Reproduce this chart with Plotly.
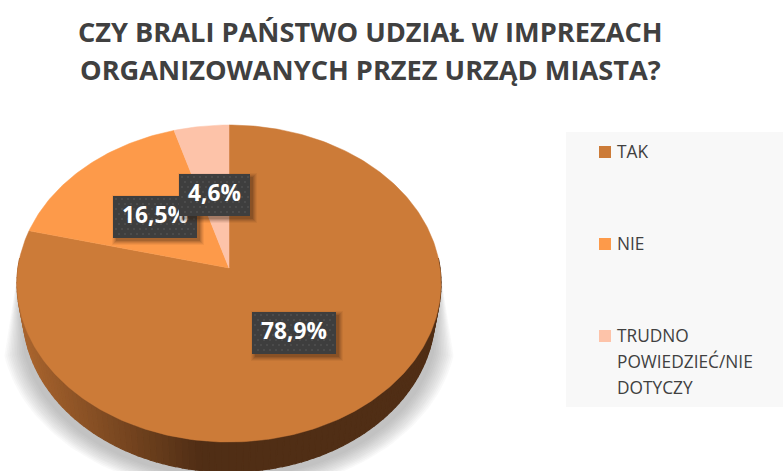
import math
import plotly.graph_objects as go

categories = ["TAK", "NIE", "TRUDNO<br>POWIEDZIEĆ/NIE<br>DOTYCZY"]
values = [78.9, 16.5, 4.6]
value_labels = ["78,9%", "16,5%", "4,6%"]
colors = ["#CC7B38", "#FD9A4A", "#FDC3A9"]
title_lines = ["CZY BRALI PAŃSTWO UDZIAŁ W IMPREZACH", "ORGANIZOWANYCH PRZEZ URZĄD MIASTA?"]

W, H = 783, 471
CX, CY, AX, AY, K = 229, 268, 211, 157, 0.0978


def project(fr):
    """Map a clockwise-from-top pie fraction on to the tilted disc."""
    t = 2 * math.pi * fr
    X, Y = math.sin(t), math.cos(t)
    w = 1 + K * Y
    return CX + AX * X / w, CY - AY * Y / w


def lower(fr, d=30, sx=0.972):
    x, y = project(fr)
    return CX + (x - CX) * sx, y + d


def poly(xs, ys, col, line=0.0, **kw):
    fig.add_trace(go.Scatter(x=xs + xs[:1], y=ys + ys[:1], mode="lines", fill="toself",
                             line=dict(width=line, color=col), fillcolor=col,
                             showlegend=False, **({"hoverinfo": "skip"} | kw)))


fig = go.Figure()

# soft shadow under the disc
LAYERS = 12
for i in range(LAYERS):
    g = i / (LAYERS - 1)
    R = 228 - 20 * g
    ry = 167 - 16 * g
    pts = [(CX + R * math.cos(math.radians(a)), 327 + ry * math.sin(math.radians(a)))
           for a in range(10, 171, 2)]
    xs = [440.0] + [p[0] for p in pts] + [18.0]
    ys = [270.0] + [p[1] for p in pts] + [270.0]
    poly(xs, ys, "rgba(120,120,120,0.045)")

# side wall, shaded left to right
N = 110
start, end = 0.24, 0.76
for i in range(N):
    f0 = start + (end - start) * i / N
    f1 = start + (end - start) * (i + 1) / N
    a, b, c, d = project(f0), project(f1), lower(f1), lower(f0)
    xm = (a[0] + b[0]) / 2
    g = max(0.0, min(1.0, (xm - 25) / 175)) if f0 > 0.5 else 1.0
    col = "rgb(%d,%d,%d)" % (168 + (80 - 168) * g, 100 + (46 - 100) * g, 46 + (21 - 46) * g)
    poly([a[0], b[0], c[0], d[0]], [a[1], b[1], c[1], d[1]], col, line=1.2)

# top surface: wedges from the values
total = sum(values)
acc = 0
for name, v, col in zip(categories, values, colors):
    n = max(3, int(v * 4))
    rim = [project((acc + v * j / n) / total) for j in range(n + 1)]
    acc += v
    label = name.replace("<br>", " ")
    poly([CX] + [p[0] for p in rim], [CY] + [p[1] for p in rim], col, line=0.5,
         name=label, text=label, hoverinfo="text")

# data labels: shadow, box, dotted texture and text, stacked in drawing order
boxes = [(252, 336, 312, 354), (113, 197, 196, 238), (179, 250, 174, 216)]
for lab, (x0, x1, y0, y1) in zip(value_labels, boxes):
    for e, alpha in ((4, 0.06), (3, 0.08), (2, 0.10), (1, 0.12), (0, 0.16)):
        poly([x0 + 3 - e, x1 + 3 + e, x1 + 3 + e, x0 + 3 - e],
             [y0 + 3 - e, y0 + 3 - e, y1 + 3 + e, y1 + 3 + e], "rgba(50,30,15,%s)" % alpha)
    poly([x0, x1, x1, x0], [y0, y0, y1, y1], "#3E3E3E")
    dx, dy = [], []
    for r, yy in enumerate(range(y0 + 3, y1, 5)):
        for xx in range(x0 + 3 + (r % 2) * 3, x1 - 1, 6):
            dx.append(xx)
            dy.append(yy)
    fig.add_trace(go.Scatter(x=dx, y=dy, mode="markers", hoverinfo="skip", showlegend=False,
                             marker=dict(size=2, color="#505050", line=dict(width=0))))
    fig.add_trace(go.Scatter(x=[(x0 + x1) / 2], y=[(y0 + y1) / 2], mode="text", text=[lab],
                             textposition="middle center", hoverinfo="skip", showlegend=False,
                             textfont=dict(family="Open Sans", size=22.7, color="#FFFFFF", weight="bold")))

shapes = [dict(type="rect", xref="x", yref="y", x0=566, x1=783, y0=132, y1=407,
               fillcolor="#F8F8F8", line=dict(width=0), layer="below")]
annotations = []
for line, y in zip(title_lines, [31, 69]):
    annotations.append(dict(text=line, x=370.5, y=y, xref="x", yref="y", showarrow=False,
                            font=dict(family="Open Sans", size=27.2, color="#404040", weight="bold"),
                            align="center", xanchor="center", yanchor="middle"))

# legend
swatch_y = [152, 244, 336]
text_y = [[151], [243], [335, 361, 387]]
for name, col, sy, tys in zip(categories, colors, swatch_y, text_y):
    shapes.append(dict(type="rect", xref="x", yref="y", x0=599, x1=611, y0=sy - 6, y1=sy + 6,
                       fillcolor=col, line=dict(width=0)))
    for line, ty in zip(name.split("<br>"), tys):
        annotations.append(dict(text=line, x=615, y=ty, xref="x", yref="y", showarrow=False, align="left",
                                xanchor="left", yanchor="middle",
                                font=dict(family="Open Sans", size=17.3, color="#404040")))

fig.update_layout(width=W, height=H, margin=dict(l=0, r=0, t=0, b=0),
                  paper_bgcolor="#FFFFFF", plot_bgcolor="#FFFFFF", showlegend=False,
                  xaxis=dict(range=[0, W], visible=False, fixedrange=True),
                  yaxis=dict(range=[H, 0], visible=False, fixedrange=True),
                  shapes=shapes, annotations=annotations)
fig.write_html("out.html", config=dict(displayModeBar=False),
               post_script="document.body.style.margin='0';document.documentElement.style.overflow='hidden';")
